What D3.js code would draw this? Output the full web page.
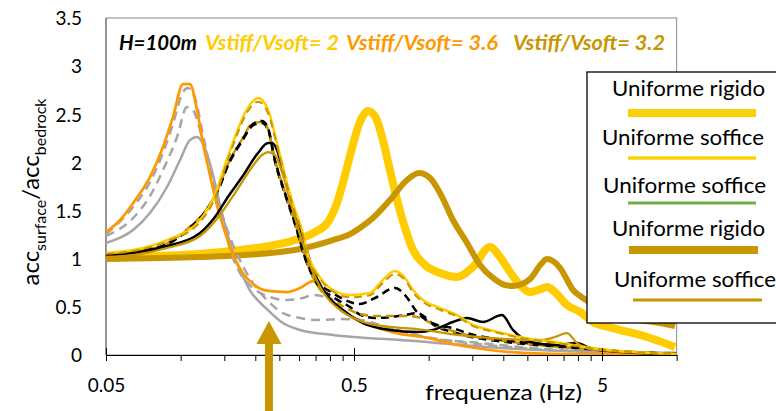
<!DOCTYPE html>
<html><head><meta charset="utf-8">
<script src="https://cdn.jsdelivr.net/npm/d3@7"></script>
<style>
body{margin:0;background:#fff;}
svg{display:block;font-family:Lato,"Open Sans",sans-serif;}
</style>
</head><body>
<svg id="chart" width="776" height="411"></svg>
<script>
// ---------- DATA ----------
// thick yellow: Uniforme rigido, Vstiff/Vsoft=2
const freqYellowRigid = [0.05,0.0826,0.1197,0.1735,0.229,0.289,0.348,0.393,0.431,0.46,0.491,0.528,0.569,0.613,0.654,0.698,0.746,0.803,0.865,0.967,1.111,1.301,1.509,1.768,1.939,2.128,2.335,2.563,2.84,3.0,3.23,3.61,4.08,4.6,5.54,7.6,9.85];
const accYellowRigid  = [1.018,1.028,1.049,1.09,1.132,1.194,1.277,1.381,1.61,1.869,2.15,2.42,2.534,2.461,2.232,1.921,1.61,1.319,1.09,0.935,0.851,0.81,0.914,1.121,1.018,0.862,0.727,0.654,0.685,0.706,0.654,0.519,0.447,0.343,0.28,0.187,0.083];
// thick gold: Uniforme rigido, Vstiff/Vsoft=3.2
const freqGoldRigid = [0.05,0.1197,0.209,0.303,0.411,0.482,0.528,0.596,0.698,0.818,0.914,1.013,1.111,1.253,1.428,1.611,1.817,2.03,2.188,2.38,2.563,2.84,3.0,3.17,3.39,3.82,4.19,4.91,6.49,8.57,9.85];
const accGoldRigid  = [0.997,1.018,1.049,1.101,1.194,1.256,1.319,1.423,1.61,1.817,1.89,1.838,1.682,1.402,1.163,0.935,0.8,0.727,0.717,0.737,0.789,0.945,0.997,0.976,0.903,0.675,0.592,0.488,0.384,0.332,0.301];
// orange: Vstiff/Vsoft=3.6
const freqOrange = [0.05,0.057,0.0643,0.0752,0.0849,0.0931,0.1022,0.109,0.1164,0.123,0.1313,0.14,0.151,0.1626,0.1768,0.1957,0.225,0.268,0.303,0.342,0.365,0.411,0.482,0.596,0.766,0.949,1.301,1.768,2.4,3.39,10];
const accOrange  = [1.277,1.402,1.578,1.848,2.16,2.471,2.814,2.814,2.544,2.201,1.869,1.558,1.277,1.038,0.862,0.737,0.665,0.654,0.696,0.768,0.717,0.55,0.405,0.301,0.218,0.187,0.104,0.052,0.021,0.01,0.01];
// grey curves
const freqGreyDashHigh = [0.05,0.0643,0.0752,0.0849,0.0931,0.1022,0.107,0.1143,0.123,0.1313,0.1414,0.1523,0.1626,0.1735,0.1957,0.229,0.268,0.311,0.342,0.389,0.439,0.528,0.679,0.949,1.611,3.39,10];
const accGreyDashHigh  = [1.256,1.537,1.796,2.098,2.399,2.731,2.773,2.669,2.285,1.942,1.558,1.246,1.007,0.851,0.696,0.602,0.571,0.592,0.623,0.592,0.467,0.363,0.291,0.187,0.125,0.052,0.021];
const freqGreyDashMid = [0.05,0.0643,0.0752,0.0849,0.0967,0.106,0.112,0.1197,0.1277,0.135,0.148,0.1626,0.1817,0.2051,0.229,0.2586,0.303,0.365,0.439,0.528,0.698,0.932,1.338,2.335,4.91,10];
const accGreyDashMid  = [1.236,1.423,1.651,1.921,2.264,2.575,2.544,2.336,2.025,1.745,1.433,1.142,0.883,0.675,0.54,0.436,0.384,0.363,0.374,0.363,0.28,0.197,0.135,0.073,0.031,0.021];
const freqGreySolid = [0.05,0.0643,0.0752,0.0881,0.0994,0.109,0.1164,0.1253,0.135,0.144,0.1538,0.1626,0.1735,0.19,0.225,0.2586,0.303,0.411,0.564,0.766,1.23,1.939,3.39,10];
const accGreySolid  = [1.163,1.298,1.475,1.745,2.025,2.232,2.264,2.15,1.869,1.558,1.277,1.059,0.883,0.675,0.467,0.332,0.26,0.208,0.177,0.156,0.114,0.073,0.042,0.021];
// thin yellow: Uniforme soffice, Vstiff/Vsoft=2
const freqYellowSoft = [0.05,0.0643,0.0881,0.1197,0.1375,0.151,0.1656,0.1817,0.194,0.2051,0.2168,0.229,0.24,0.2563,0.271,0.289,0.311,0.326,0.355,0.411,0.482,0.58,0.654,0.732,0.803,0.865,0.949,1.111,1.301,1.509,1.768,2.335,3.39,4.91,10];
const accYellowSoft  = [1.059,1.09,1.194,1.402,1.661,1.973,2.264,2.513,2.627,2.669,2.627,2.492,2.285,1.994,1.745,1.506,1.267,1.038,0.851,0.675,0.623,0.644,0.779,0.872,0.8,0.675,0.571,0.488,0.415,0.312,0.26,0.187,0.125,0.062,0.01];
const accGoldSoftDash = [1.05,1.08,1.18,1.38,1.63,1.94,2.23,2.48,2.59,2.63,2.59,2.46,2.26,1.97,1.72,1.48,1.24,1.01,0.83,0.66,0.6,0.62,0.75,0.84,0.78,0.65,0.55,0.47,0.4,0.3,0.25,0.18,0.12,0.06,0.01];
// black dashed group
const freqBlackDash = [0.05,0.0643,0.0881,0.112,0.1253,0.1414,0.155,0.1768,0.1957,0.2128,0.225,0.24,0.2635,0.289,0.317,0.355,0.411,0.482,0.528,0.608,0.732,0.803,0.897,1.081,1.253,1.428,1.768,2.335,3.39,4.91,10];
const accBlackDash  = [1.038,1.07,1.153,1.35,1.485,1.713,1.973,2.232,2.399,2.43,2.357,2.025,1.682,1.371,1.018,0.768,0.644,0.55,0.53,0.592,0.696,0.623,0.447,0.312,0.28,0.228,0.177,0.135,0.093,0.052,0.01];
const accBlackDash2 = [1.035,1.065,1.15,1.345,1.48,1.705,1.965,2.22,2.385,2.41,2.34,2.01,1.67,1.36,1.01,0.737,0.602,0.498,0.42,0.384,0.4,0.415,0.436,0.291,0.239,0.197,0.156,0.12,0.083,0.052,0.01];
const accGoldDash   = [1.04,1.07,1.16,1.36,1.49,1.72,1.98,2.24,2.41,2.42,2.35,2.03,1.69,1.38,1.03,0.727,0.571,0.467,0.426,0.405,0.405,0.405,0.395,0.301,0.249,0.208,0.166,0.125,0.083,0.052,0.01];
// black solid
const freqBlackSolid = [0.05,0.0643,0.0881,0.1197,0.1375,0.155,0.1768,0.2051,0.225,0.2335,0.2447,0.2563,0.281,0.311,0.3385,0.375,0.451,0.543,0.698,0.897,1.041,1.253,1.428,1.656,1.975,2.188,2.563,3.29,3.96,4.47,6.08,10];
const accBlackSolid  = [1.028,1.059,1.132,1.267,1.433,1.641,1.848,2.098,2.201,2.201,2.129,1.952,1.578,1.225,0.914,0.675,0.467,0.332,0.26,0.239,0.26,0.343,0.384,0.343,0.415,0.26,0.135,0.104,0.125,0.073,0.031,0.01];
// thin gold solid: Uniforme soffice, Vstiff/Vsoft=3.2
const freqGoldSoft = [0.05,0.0643,0.0881,0.1197,0.144,0.1656,0.194,0.2128,0.225,0.24,0.2563,0.281,0.3085,0.3385,0.375,0.451,0.543,0.698,0.897,1.23,1.768,2.84,3.23,3.61,3.96,4.47,10];
const accGoldSoft  = [1.018,1.038,1.111,1.236,1.454,1.682,1.952,2.077,2.108,2.077,1.9,1.537,1.184,0.883,0.654,0.447,0.343,0.291,0.27,0.218,0.177,0.156,0.187,0.228,0.125,0.062,0.01];

// axes
const xMajorTicks = [0.05, 0.5, 5];
const xMajorLabels = ["0.05", "0.5", "5"];
const xMinorTicks = [0.1,0.15,0.2,0.25,0.3,0.35,0.4,0.45,1,1.5,2,2.5,3,3.5,4,4.5,10];
const yTicks = [0,0.5,1,1.5,2,2.5,3,3.5];
const yLabels = ["0","0.5","1","1.5","2","2.5","3","3.5"];

// title / legend text
const titleTexts  = ["H=100m", "Vstiff/Vsoft= 2", "Vstiff/Vsoft= 3.6", "Vstiff/Vsoft= 3.2"];
const titleColors = ["#000000", "#FFCC00", "#FF9900", "#C89600"];
const legendLabels = ["Uniforme rigido", "Uniforme soffice", "Uniforme soffice", "Uniforme rigido", "Uniforme soffice"];
const legendColors = ["#FAD20A", "#FAD20A", "#70AD47", "#C89600", "#C89600"];
const arrowFreq = 0.227;
const arrowTipAcc = 0.353;
const arrowBaseAcc = 0.114;

// ---------- CHART ----------
const svg = d3.select("#chart");
const x = d3.scaleLog().domain([0.05, 10]).range([106, 106 + 248 * Math.log10(200)]);
const y = d3.scaleLinear().domain([0, 3.5]).range([355, 18]);

const YEL = "#FFCC00", GOLD = "#C89600", ORA = "#FF9900", GREY = "#A6A6A6";

// plot frame
svg.append("rect").attr("x", x(0.05)).attr("y", y(3.5))
  .attr("width", x(10) - x(0.05)).attr("height", y(0) - y(3.5))
  .attr("fill", "none").attr("stroke", "#8a8a8a").attr("stroke-width", 1);
svg.append("line").attr("x1", x(0.05)).attr("x2", x(0.05)).attr("y1", y(3.5)).attr("y2", y(0))
  .attr("stroke", "#868686").attr("stroke-width", 1.5);

const pairs = (f, a) => f.map((d, i) => [d, a[i]]);
const series = [
  {f: freqYellowRigid, a: accYellowRigid, c: YEL, w: 8, dash: null},
  {f: freqGoldRigid, a: accGoldRigid, c: GOLD, w: 6, dash: null},
  {f: freqGreySolid, a: accGreySolid, c: GREY, w: 2.5, dash: null},
  {f: freqGreyDashMid, a: accGreyDashMid, c: GREY, w: 2.5, dash: "9,6"},
  {f: freqGreyDashHigh, a: accGreyDashHigh, c: GREY, w: 2.5, dash: "9,6"},
  {f: freqOrange, a: accOrange, c: ORA, w: 2.75, dash: null},
  {f: freqBlackDash, a: accBlackDash2, c: "#000", w: 2.5, dash: "8,5"},
  {f: freqBlackDash, a: accGoldDash, c: GOLD, w: 2.5, dash: "8,5", off: 6},
  {f: freqBlackDash, a: accBlackDash, c: "#000", w: 2.5, dash: "8,5"},
  {f: freqBlackSolid, a: accBlackSolid, c: "#000", w: 2.5, dash: null},
  {f: freqGoldSoft, a: accGoldSoft, c: GOLD, w: 2.25, dash: null},
  {f: freqYellowSoft, a: accYellowSoft, c: YEL, w: 2.5, dash: null},
  {f: freqYellowSoft, a: accGoldSoftDash, c: GOLD, w: 2, dash: "8,5"}
];
const line = d3.line().x(d => x(d[0])).y(d => y(d[1])).curve(d3.curveMonotoneX);
svg.append("g").selectAll("path").data(series).join("path")
  .attr("d", s => line(pairs(s.f, s.a)))
  .attr("fill", "none").attr("stroke", s => s.c).attr("stroke-width", s => s.w)
  .attr("stroke-dasharray", s => s.dash).attr("stroke-dashoffset", s => s.off || 0)
  .attr("stroke-linejoin", "round");

// x axis
const gx = svg.append("g").attr("transform", `translate(0,${y(0)})`);
gx.call(d3.axisBottom(x).tickValues(xMinorTicks).tickSize(6).tickSizeOuter(0).tickFormat(""));
gx.select(".domain").attr("stroke", "#000").attr("stroke-width", 1.2);
gx.selectAll(".tick line").attr("stroke", "#000");
const gxm = svg.append("g").attr("transform", `translate(0,${y(0)})`);
gxm.call(d3.axisBottom(x).tickValues(xMajorTicks).tickSize(6).tickSizeOuter(0)
  .tickFormat((d, i) => xMajorLabels[i]));
gxm.select(".domain").remove();
gxm.selectAll(".tick line").attr("y1", -7).attr("stroke", "#000");
gxm.selectAll(".tick text").attr("y", 37).attr("dy", null)
  .style("font-size", "19px").style("font-family", "Lato").attr("fill", "#000");

// y axis labels
const gy = svg.append("g").attr("transform", `translate(${x(0.05)},0)`);
gy.call(d3.axisLeft(y).tickValues(yTicks).tickSize(0).tickPadding(24).tickFormat((d, i) => yLabels[i]));
gy.select(".domain").remove();
gy.selectAll(".tick text").style("font-size", "19px").style("font-family", "Lato").attr("fill", "#000").attr("dy", "0.36em");

// axis titles
svg.append("text").attr("x", 425).attr("y", 400).attr("textLength", 157).attr("lengthAdjust", "spacingAndGlyphs")
  .style("font-size", "22px").attr("fill", "#000").text("frequenza  (Hz)");
const yt = svg.append("text").attr("transform", "translate(39,192) rotate(-90)")
  .attr("text-anchor", "middle").style("font-size", "24px").attr("fill", "#000");
yt.append("tspan").text("acc");
yt.append("tspan").attr("dy", 7).style("font-size", "16px").text("surface");
yt.append("tspan").attr("dy", -7).text("/acc");
yt.append("tspan").attr("dy", 7).style("font-size", "16px").text("bedrock");

// title texts
const titleX = [119, 205, 346, 513], titleW = [78, 134, 152, 152];
titleTexts.forEach((t, i) => {
  svg.append("text").attr("x", titleX[i]).attr("y", 50)
    .attr("textLength", titleW[i]).attr("lengthAdjust", "spacingAndGlyphs")
    .style("font-size", "20px").style("font-weight", "bold").style("font-style", "italic")
    .attr("fill", titleColors[i]).text(t);
});

// legend
const lg = svg.append("g");
lg.append("rect").attr("x", 587).attr("y", 72).attr("width", 200).attr("height", 251)
  .attr("fill", "#fff").attr("stroke", "#000").attr("stroke-width", 1.3);
const legTextX = [612, 602, 603, 612, 614], legTextW = [153, 162, 163, 153, 162];
const legTextY = [96, 145, 193, 236, 287];
const legLineY = [113, 158, 203, 250, 300];
const legLineX1 = [628, 628, 628, 629, 633], legLineX2 = [756, 756, 756, 758, 762];
const legLineW = [8, 3.5, 3, 8, 3];
legendLabels.forEach((t, i) => {
  lg.append("text").attr("x", legTextX[i]).attr("y", legTextY[i])
    .attr("textLength", legTextW[i]).attr("lengthAdjust", "spacingAndGlyphs")
    .style("font-size", "22px").attr("fill", "#000").text(t);
  lg.append("line").attr("x1", legLineX1[i]).attr("x2", legLineX2[i])
    .attr("y1", legLineY[i]).attr("y2", legLineY[i])
    .attr("stroke", legendColors[i]).attr("stroke-width", legLineW[i]);
});

// arrow
const ax = x(arrowFreq);
svg.append("rect").attr("x", ax - 4).attr("y", y(arrowBaseAcc) - 1).attr("width", 8).attr("height", 411 - y(arrowBaseAcc) + 1)
  .attr("fill", GOLD);
svg.append("path")
  .attr("d", `M${ax - 12.5},${y(arrowBaseAcc)} L${ax + 12.5},${y(arrowBaseAcc)} L${ax},${y(arrowTipAcc)} Z`)
  .attr("fill", GOLD);
</script>
</body></html>
